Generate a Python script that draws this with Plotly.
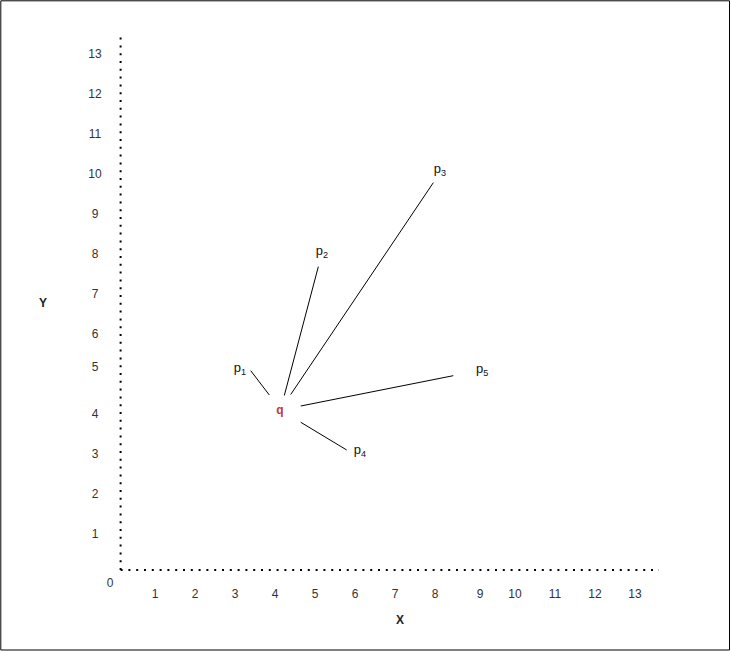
import plotly.graph_objects as go

# ---- data (diagram coordinates, 1 unit = one grid step) ----
x_tick_labels = ["1", "2", "3", "4", "5", "6", "7", "8", "9", "10", "11", "12", "13"]
x_tick_pos = [1, 2, 3, 4, 5, 6, 7, 8, 9.125, 10, 11, 12, 13]
y_tick_labels = ["13", "12", "11", "10", "9", "8", "7", "6", "5", "4", "3", "2", "1"]
y_tick_pos = [13, 12, 11, 10, 9, 8, 7, 6, 5.175, 4, 3, 2, 1]

point_names = ["p<sub>1</sub>", "p<sub>2</sub>", "p<sub>3</sub>", "p<sub>4</sub>", "p<sub>5</sub>"]
label_x = [3.125, 5.17, 8.12, 6.125, 9.18]
label_y = [5.15, 8.075, 10.125, 3.1, 5.125]
seg_x0 = [3.858, 4.233, 4.393, 4.643, 4.643]
seg_y0 = [4.5, 4.488, 4.513, 3.818, 4.225]
seg_x1 = [3.393, 5.083, 7.958, 5.793, 8.458]
seg_y1 = [5.108, 7.708, 9.808, 3.125, 4.983]

q_name = "q"
q_x, q_y = 4.125, 4.1

W, H = 731, 651
X0PX, Y0PX, UNIT = 115, 575, 40  # pixel of origin and pixels per unit

fig = go.Figure()

# dotted axes
dot = "2px,5.8px"
fig.add_trace(go.Scatter(x=[0.14, 0.14], y=[0.125, 13.55], mode="lines",
                         line=dict(color="#000000", width=2, dash=dot),
                         hoverinfo="skip", showlegend=False))
fig.add_trace(go.Scatter(x=[0.14, 13.6], y=[0.125, 0.125], mode="lines",
                         line=dict(color="#000000", width=2, dash=dot),
                         hoverinfo="skip", showlegend=False))

# segments from q to each point
for i in range(len(point_names)):
    fig.add_trace(go.Scatter(x=[seg_x0[i], seg_x1[i]], y=[seg_y0[i], seg_y1[i]],
                             mode="lines", line=dict(color="#000000", width=1),
                             hoverinfo="skip", showlegend=False))

tick_font = dict(family="Liberation Sans, Arial, sans-serif", size=12, color="#333333")
fig.add_trace(go.Scatter(x=x_tick_pos, y=[-0.5] * len(x_tick_pos), mode="text",
                         text=x_tick_labels, textfont=tick_font,
                         textposition="middle center", hoverinfo="skip", showlegend=False))
fig.add_trace(go.Scatter(x=[-0.5] * len(y_tick_pos), y=y_tick_pos, mode="text",
                         text=y_tick_labels, textfont=tick_font,
                         textposition="middle center", hoverinfo="skip", showlegend=False))
fig.add_trace(go.Scatter(x=[-0.125], y=[-0.225], mode="text", text=["0"], textfont=tick_font,
                         textposition="middle center", hoverinfo="skip", showlegend=False))

lab_font = dict(family="Liberation Sans, Arial, sans-serif", size=13, color="#111111")
fig.add_trace(go.Scatter(x=label_x, y=label_y, mode="text",
                         text=point_names, textfont=lab_font,
                         textposition="middle center", hoverinfo="skip", showlegend=False))
fig.add_trace(go.Scatter(x=[q_x], y=[q_y], mode="text", text=["<b>" + q_name + "</b>"],
                         textfont=dict(family="Liberation Sans, Arial, sans-serif", size=12,
                                       color="#b83b3b"),
                         textposition="middle center", hoverinfo="skip", showlegend=False))

# axis titles
fig.add_trace(go.Scatter(x=[(43 - X0PX) / UNIT, (400 - X0PX) / UNIT],
                         y=[(Y0PX - 304) / UNIT, (Y0PX - 621) / UNIT],
                         mode="text", text=["<b>Y</b>", "<b>X</b>"],
                         textfont=dict(family="Liberation Sans, Arial, sans-serif", size=12,
                                       color="#222222"),
                         textposition="middle center", hoverinfo="skip", showlegend=False))

fig.update_layout(
    width=W, height=H, autosize=False,
    margin=dict(l=0, r=0, t=0, b=0),
    paper_bgcolor="white", plot_bgcolor="white",
    xaxis=dict(range=[-X0PX / UNIT, (W - X0PX) / UNIT], visible=False, fixedrange=True),
    yaxis=dict(range=[(Y0PX - H) / UNIT, Y0PX / UNIT], visible=False, fixedrange=True),
    shapes=[dict(type="rect", xref="paper", yref="paper",
                 x0=0.8 / W, x1=(W - 1.5) / W, y0=1.0 / H, y1=(H - 0.8) / H,
                 line=dict(color="#000000", width=1))],
)

fig.write_html("out.html",
               config={"displayModeBar": False, "staticPlot": True},
               post_script="document.body.style.margin='0';document.body.style.padding='0';")
